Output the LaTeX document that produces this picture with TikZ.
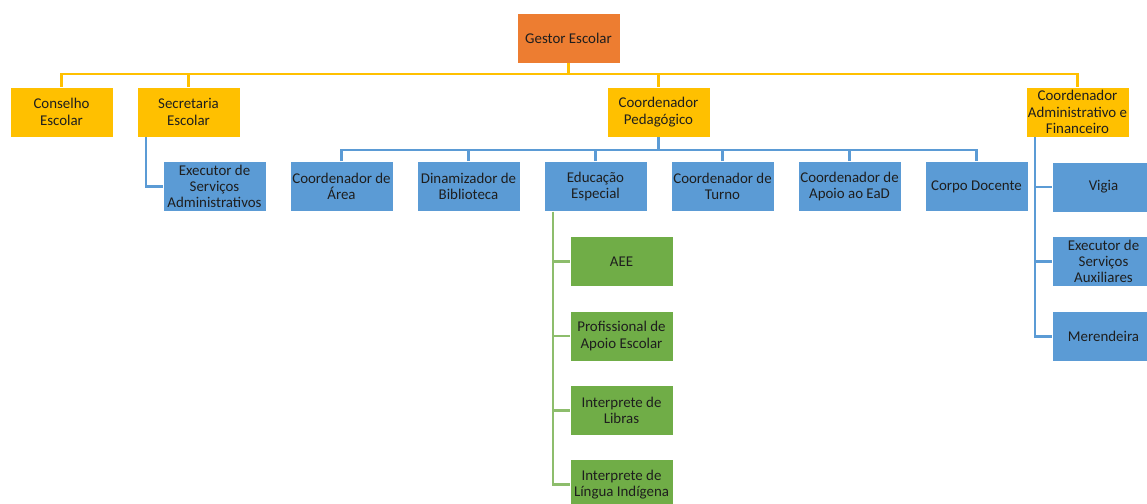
\documentclass[tikz,border=0pt]{standalone}
\usepackage{fontspec}
\setmainfont{Carlito}
\usetikzlibrary{calc, positioning}
\definecolor{orgorange}{HTML}{ED7D31}
\definecolor{orgyellow}{HTML}{FFC000}
\definecolor{orgblue}{HTML}{5B9BD5}
\definecolor{orggreen}{HTML}{70AD47}
\definecolor{orgtext}{HTML}{1E1E1E}
\tikzset{
  font=\fontsize{10.6pt}{11.6pt}\selectfont,
  % General box
  box/.style={draw=white, line width=0.4pt, shape=rectangle, align=center,
    text=orgtext, minimum width=2.575cm, minimum height=1.25cm, inner sep=1pt},
  % Head box
  hbox/.style={box, fill=orgorange},
  % First level box
  ybox/.style={box, fill=orgyellow},
  % Staff box
  bbox/.style={box, fill=orgblue},
  % Special education box
  gbox/.style={box, fill=orggreen},
  % Connectors
  yline/.style={draw=orgyellow, line width=1.5pt},
  bline/.style={draw=orgblue, line width=1.5pt},
  gline/.style={draw=orggreen!80!white, line width=1.5pt},
}
\begin{document}
\begin{tikzpicture}[x=0.025cm, y=-0.025cm]
  \clip (0,0) rectangle (1147,504);
  \fill[white] (0,0) rectangle (1147,504);

  \node[hbox] (gestor) at (568.5,38) {Gestor Escolar};

  \node[ybox] (conselho) at (61.5,112) {Conselho\\Escolar};
  \node[ybox] (secretaria) at (188.5,112) {Secretaria\\Escolar};
  \node[ybox] (pedag) at (658.5,112) {Coordenador\\Pedagógico};
  \node[ybox] (adminfin) at (1077.5,112) {Coordenador\\Administrativo e\\Financeiro};

  \node[bbox] (execadm) at (214.5,186.5) {Executor de\\Serviços\\Administrativos};

  \node[bbox] (area) at (341.5,186.5) {Coordenador de\\Área};
  \node[bbox] (biblio) at (468.5,186.5) {Dinamizador de\\Biblioteca};
  \node[bbox] (educesp) at (595.5,186.5) {Educação\\Especial};
  \node[bbox] (turno) at (722.5,186.5) {Coordenador de\\Turno};
  \node[bbox] (ead) at (849.5,186.5) {Coordenador de\\Apoio ao EaD};
  \node[bbox] (docente) at (976.5,186.5) {Corpo Docente};

  \node[gbox] (aee) at (621.5,261.5) {AEE};
  \node[gbox] (profapoio) at (621.5,336) {Profissional de\\Apoio Escolar};
  \node[gbox] (libras) at (621.5,410.5) {Interprete de\\Libras};
  \node[gbox] (indigena) at (621.5,484.5) {Interprete de\\Língua Indígena};

  \node[bbox] (vigia) at (1103.5,187) {Vigia};
  \node[bbox] (execaux) at (1103.5,261.5) {Executor de\\Serviços\\Auxiliares};
  \node[bbox] (merendeira) at (1103.5,336.5) {Merendeira};

  % Gestor to first level
  \coordinate (bus1) at (568.5,74);
  \draw[yline] (gestor.south) -- (bus1);
  \foreach \n in {conselho, secretaria, pedag, adminfin}
    \draw[yline] (\n.north) |- (bus1);

  % Pedagogic staff
  \coordinate (bus2) at (658.5,150);
  \draw[bline] (pedag.south) -- (bus2);
  \foreach \n in {area, biblio, educesp, turno, ead, docente}
    \draw[bline] (\n.north) |- (bus2);

  % Side branches
  \draw[bline] ($(secretaria.south west)+(9,0)$) |- (execadm.west);
  \foreach \n in {aee, profapoio, libras, indigena}
    \draw[gline] ($(educesp.south west)+(9,0)$) |- (\n.west);
  \foreach \n in {vigia, execaux, merendeira}
    \draw[bline] ($(adminfin.south west)+(9,0)$) |- (\n.west);
\end{tikzpicture}
\end{document}
